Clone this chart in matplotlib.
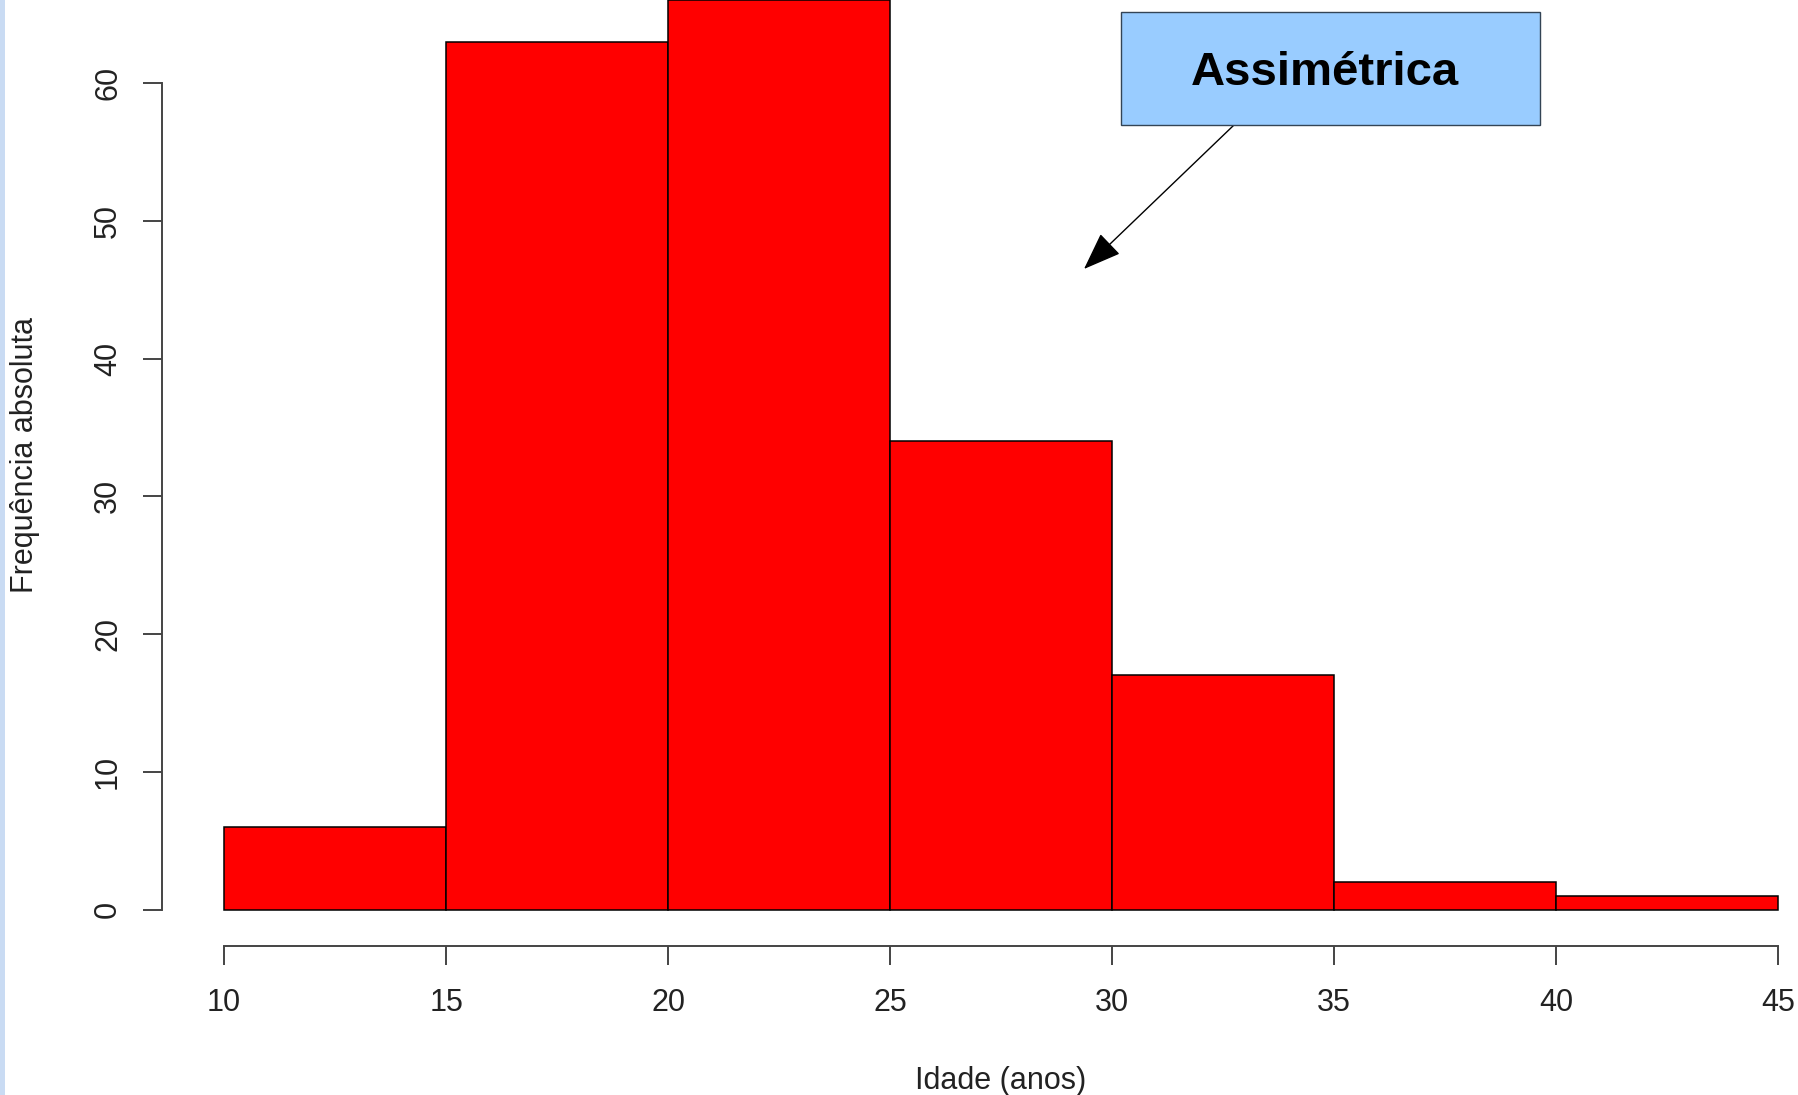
import matplotlib.pyplot as plt
from matplotlib.patches import Rectangle

# histogram data
bin_edges = [10, 15, 20, 25, 30, 35, 40, 45]
counts = [6, 63, 66, 34, 17, 2, 1]
x_ticks = [10, 15, 20, 25, 30, 35, 40, 45]
y_ticks = [0, 10, 20, 30, 40, 50, 60]

W, H = 1799, 1095
plt.rcParams["font.family"] = ["Liberation Sans", "DejaVu Sans"]

fig = plt.figure(figsize=(W / 100, H / 100), dpi=100)

# R-style plot region (it runs off the top and the right of the cropped picture)
left, right, top, bottom = 162, 1840, -36, 946
ax = fig.add_axes([left / W, 1 - bottom / H, (right - left) / W, (bottom - top) / H])

ax.bar(bin_edges[:-1], counts, width=5, align="edge",
       color="#ff0000", edgecolor="black", linewidth=1.1, clip_on=False)

ax.set_xlim(8.6, 46.4)
ax.set_ylim(-2.64, 68.64)

for s in ["top", "right"]:
    ax.spines[s].set_visible(False)
ax.spines["left"].set_bounds(0, 60)
ax.spines["bottom"].set_bounds(10, 45)
for s in ["left", "bottom"]:
    ax.spines[s].set_color("#444444")
    ax.spines[s].set_linewidth(1.4)

ax.set_xticks(x_ticks)
ax.set_yticks(y_ticks)
ax.set_xticklabels([str(v) for v in x_ticks])
ax.set_yticklabels([str(v) for v in y_ticks], rotation=90, va="center")
ax.tick_params(axis="both", direction="out", length=14, width=1.4,
               color="#444444", labelsize=22, labelcolor="#222222")
ax.tick_params(axis="x", pad=16)
ax.tick_params(axis="y", pad=14)
ax.set_facecolor("none")

fig.text(1001 / W, 1 - 1081 / H, "Idade (anos)", ha="center", va="center",
         fontsize=22, color="#222222")
fig.text(25 / W, 1 - 455 / H, "Frequência absoluta", ha="center", va="center",
         rotation=90, fontsize=22, color="#222222")

# callout box and arrow
bx0, bx1, by0, by1 = 1121, 1540, 12, 125
fig.patches.append(Rectangle((bx0 / W, 1 - by1 / H), (bx1 - bx0) / W, (by1 - by0) / H,
                             transform=fig.transFigure, facecolor="#99ccff",
                             edgecolor="#334455", linewidth=1.0))
fig.text(1325 / W, 1 - 85 / H, "Assimétrica", ha="center", va="baseline",
         fontsize=34, fontweight="bold", color="black")

ax.annotate("", xy=(1084, H - 269), xycoords="figure pixels",
            xytext=(1234, H - 125), textcoords="figure pixels",
            arrowprops=dict(arrowstyle="-|>,head_length=1.2,head_width=0.45",
                            mutation_scale=20, color="black", lw=1.0,
                            shrinkA=0, shrinkB=0))

# light blue strip on the left edge (slide background)
fig.patches.append(Rectangle((0, 0), 5 / W, 1, transform=fig.transFigure,
                             facecolor="#c9dbf3", edgecolor="none"))

fig.savefig("out.png", dpi=100)
